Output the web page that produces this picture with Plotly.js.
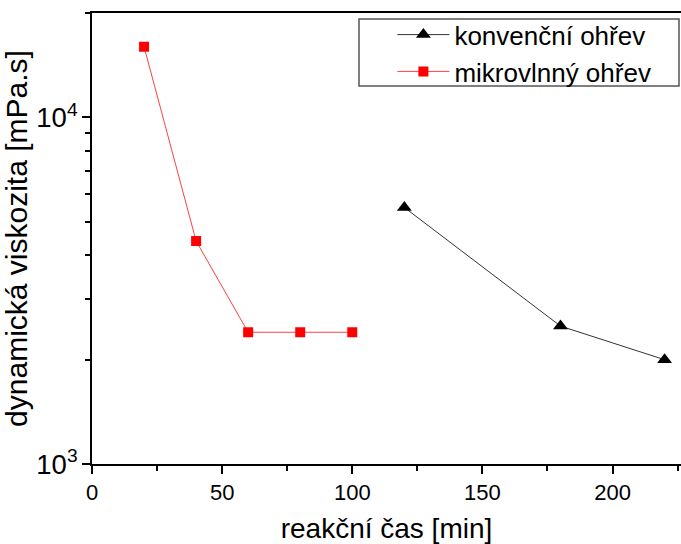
<!DOCTYPE html>
<html>
<head>
<meta charset="utf-8">
<script src="https://cdn.plot.ly/plotly-3.0.1.min.js"></script>
<style>html,body{margin:0;padding:0;background:#fff;}#chart{width:681px;height:544px;}</style>
</head>
<body>
<div id="chart"></div>
<script>
var convTime = [120, 180, 220];
var convVisc = [5500, 2500, 2000];
var microTime = [20, 40, 60, 80, 100];
var microVisc = [16000, 4400, 2400, 2400, 2400];
var seriesNames = ['konvenční ohřev', 'mikrovlnný ohřev'];
var xTitle = 'reakční čas [min]';
var yTitle = 'dynamická viskozita [mPa.s]';

var FONT = 'Liberation Sans, Arial, sans-serif';

var data = [
  {x: convTime, y: convVisc, name: seriesNames[0], mode: 'lines+markers', type: 'scatter',
   line: {color: '#333333', width: 1},
   marker: {symbol: 'triangle-up', size: 13, color: '#000000'}},
  {x: microTime, y: microVisc, name: seriesNames[1], mode: 'lines+markers', type: 'scatter',
   line: {color: '#ff4040', width: 1},
   marker: {symbol: 'square', size: 10, color: '#ff0000'}}
];

var layout = {
  width: 681, height: 544,
  margin: {l: 92, r: 0, t: 13, b: 80},
  paper_bgcolor: '#fff', plot_bgcolor: '#fff',
  font: {family: FONT, color: '#000', size: 20},
  showlegend: true,
  legend: {x: 0.51, y: 1.004, xanchor: 'left', yanchor: 'top',
           bgcolor: 'rgba(0,0,0,0)', borderwidth: 0,
           font: {family: FONT, size: 26, color: '#000'}, itemwidth: 52, tracegroupgap: 0},
  shapes: [{type: 'rect', xref: 'paper', yref: 'paper', x0: 0.4533, x1: 0.9966, y0: 0.9867, y1: 0.8381,
            line: {color: '#555', width: 1.5}, fillcolor: 'rgba(0,0,0,0)'}],
  xaxis: {
    range: [0, 226.3], showgrid: false, zeroline: false,
    showline: true, linecolor: '#000', linewidth: 2, mirror: true,
    ticks: 'outside', ticklen: 8, tickwidth: 2, tickcolor: '#000',
    dtick: 50, tick0: 0,
    minor: {dtick: 25, ticks: 'outside', ticklen: 5, tickwidth: 2, tickcolor: '#000', showgrid: false},
    tickfont: {family: FONT, size: 22, color: '#000'},
    title: {text: xTitle, font: {family: FONT, size: 28, color: '#000'}, standoff: 16}
  },
  yaxis: {
    type: 'log', range: [3, 4.3015], showgrid: false, zeroline: false,
    showline: true, linecolor: '#000', linewidth: 2, mirror: false,
    ticks: 'outside', ticklen: 8, tickwidth: 2, tickcolor: '#000',
    dtick: 1, exponentformat: 'power',
    minor: {dtick: 'D1', ticks: 'outside', ticklen: 5, tickwidth: 2, tickcolor: '#000', showgrid: false},
    tickfont: {family: FONT, size: 22, color: '#000'},
    title: {text: yTitle, font: {family: FONT, size: 30, color: '#000'}, standoff: 6}
  }
};

Plotly.newPlot('chart', data, layout, {displayModeBar: false, staticPlot: true});
</script>
</body>
</html>
